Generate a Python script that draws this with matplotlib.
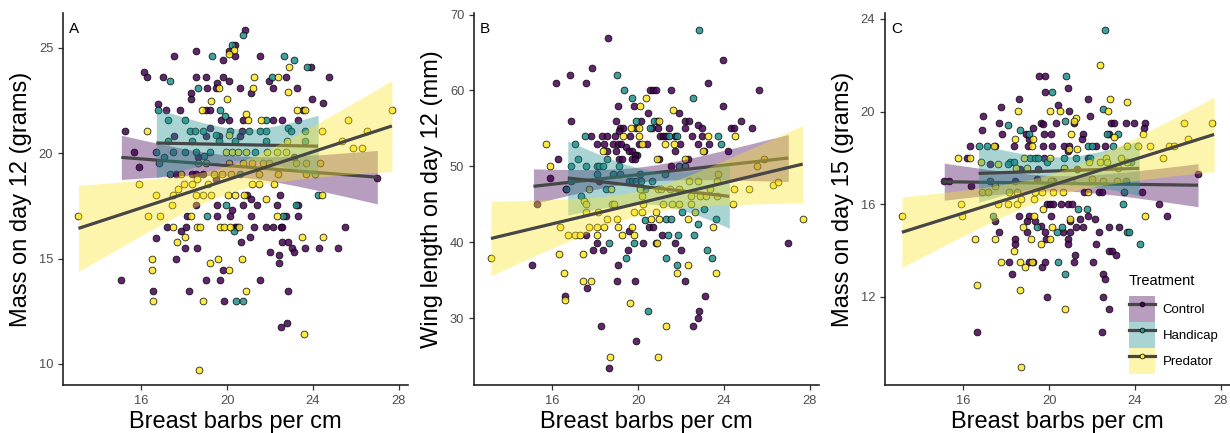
import numpy as np
import matplotlib
matplotlib.use("Agg")
import matplotlib.pyplot as plt
from matplotlib.patches import Patch
from matplotlib.lines import Line2D

plt.rcParams['font.family'] = ['Liberation Sans', 'DejaVu Sans']

treatments = ["Control", "Handicap", "Predator"]
colors = ["#440154", "#21908C", "#FDE725"]
line_col = "#464646"

# ---- Panel A: mass on day 12 (barbs per cm, grams) ----
a_control = [(20.83,25.86),(20.36,25.11),(20.10,24.87),(20.38,24.62),(17.54,24.59),(18.56,24.86),(19.80,24.40),(21.51,24.59),(23.93,24.10),(16.13,23.86),(16.25,23.59),(17.01,23.59),(18.56,23.59),(19.01,23.59),(19.79,23.59),(19.51,23.33),(20.11,23.40),(22.73,23.59),(21.93,23.40),(24.75,23.59),(19.06,23.08),(19.48,23.08),(20.59,23.08),(22.16,23.08),(23.24,23.08),(18.33,22.84),(18.31,22.57),(21.09,22.84),(23.94,22.57),(24.48,22.37),(16.79,22.32),(17.15,22.06),(17.79,22.06),(19.01,22.06),(19.20,22.06),(23.55,22.06),(19.71,21.56),(20.11,21.56),(20.72,21.56),(22.16,21.56),(22.58,21.56),(23.32,21.56),(15.24,21.06),(19.21,21.17),(20.69,21.06),(17.54,20.81),(19.01,20.81),(19.63,20.81),(20.59,20.81),(15.68,20.05),(18.64,19.83),(23.10,19.83),(15.88,19.35),(17.62,19.03),(18.34,19.03),(18.55,19.03),(18.86,19.03),(27.00,18.83),(19.48,18.78),(20.92,18.03),(21.09,17.81),(22.48,18.03),(18.55,17.52),(19.54,17.52),(20.76,17.52),(21.40,17.52),(22.31,17.52),(23.29,17.52),(20.21,17.30),(18.11,17.00),(19.55,17.00),(20.14,17.00),(21.09,17.00),(22.75,17.00),(23.29,17.00),(17.18,16.49),(17.85,16.30),(18.08,16.49),(20.36,16.49),(20.45,16.49),(21.24,16.49),(21.83,16.49),(22.14,16.49),(22.50,16.49),(22.58,16.49),(25.49,16.49),(16.70,15.98),(18.03,15.49),(18.61,15.49),(20.64,15.79),(21.07,16.00),(22.58,15.79),(22.83,15.79),(23.04,15.49),(23.65,15.49),(23.10,15.29),(24.30,15.49),(25.17,15.49),(21.99,15.29),(22.44,15.19),(17.60,14.98),(22.44,14.79),(19.82,14.48),(15.06,13.98),(19.00,13.98),(19.65,13.98),(21.52,13.98),(16.55,13.48),(18.21,13.48),(22.83,13.48),(19.86,12.97),(22.53,11.76),(22.81,11.95)]
a_handicap = [(20.75,25.62),(20.22,25.11),(19.29,24.59),(22.66,24.59),(23.12,24.40),(23.74,24.10),(17.35,23.40),(22.07,23.59),(18.64,23.08),(16.79,22.06),(19.69,22.06),(19.90,21.78),(17.24,21.56),(18.05,21.56),(21.80,21.56),(18.27,21.06),(18.50,21.06),(18.87,21.06),(20.13,21.06),(21.03,21.06),(21.54,21.06),(21.83,21.06),(22.83,21.17),(22.98,21.06),(23.62,21.06),(19.46,20.86),(17.23,20.56),(18.36,20.56),(19.60,20.56),(20.36,20.56),(21.80,20.56),(23.63,20.56),(16.67,20.05),(17.48,20.05),(18.03,20.05),(18.56,20.05),(18.93,19.87),(19.21,20.05),(21.29,20.05),(17.07,19.83),(16.84,19.51),(17.34,19.03),(20.62,19.03),(24.22,18.03),(19.94,17.52),(23.20,17.52),(19.06,17.00),(22.59,17.02),(20.31,16.30),(20.41,12.97),(20.73,12.97)]
a_predator = [(20.33,24.90),(20.07,24.70),(22.89,24.10),(21.23,23.59),(22.39,23.59),(19.63,23.08),(21.21,23.08),(22.83,22.89),(19.23,22.49),(19.99,22.57),(18.84,22.06),(20.90,21.87),(23.26,22.06),(23.62,22.06),(27.68,22.06),(20.98,21.56),(21.60,21.56),(25.62,21.56),(16.27,21.06),(24.42,21.06),(26.53,21.06),(20.10,20.86),(22.78,20.56),(25.34,20.56),(25.86,20.25),(26.30,20.25),(19.94,20.05),(20.25,20.05),(20.52,20.05),(20.87,20.05),(21.85,20.05),(22.33,20.05),(22.76,20.05),(18.64,19.51),(19.01,19.51),(20.10,19.51),(20.73,19.51),(21.18,19.51),(21.65,19.51),(21.96,19.51),(23.20,19.51),(23.69,19.51),(24.33,19.51),(17.85,19.03),(19.40,19.03),(19.74,19.03),(20.16,19.03),(21.48,19.03),(22.38,19.03),(23.69,19.03),(24.10,19.03),(15.88,18.54),(18.58,18.78),(18.36,18.54),(18.00,18.54),(19.09,18.54),(21.49,18.54),(21.18,18.54),(22.19,18.54),(13.07,17.00),(16.67,18.03),(17.46,18.03),(17.72,18.29),(18.55,18.03),(18.89,18.03),(19.24,18.03),(20.02,18.03),(20.38,18.03),(20.79,18.03),(24.42,18.03),(21.80,17.81),(17.41,17.52),(16.30,17.00),(18.31,17.00),(22.34,17.00),(16.86,17.02),(17.46,16.49),(18.58,16.49),(18.73,16.49),(19.69,16.49),(19.85,16.49),(20.13,16.49),(20.56,16.49),(17.68,15.79),(18.03,16.00),(23.48,16.00),(24.45,16.00),(16.52,14.98),(19.18,14.79),(19.59,14.98),(20.70,14.98),(16.52,14.48),(20.10,14.48),(20.90,13.48),(16.56,12.97),(18.86,12.97),(23.60,11.44),(18.67,9.73)]

# ---- Panel B: wing length on day 12 (mm) ----
b_control = [(18.61,66.97),(23.97,63.99),(17.84,62.98),(16.83,61.97),(16.17,61.01),(17.58,61.01),(23.26,61.01),(20.53,60.00),(20.67,60.00),(20.81,60.00),(21.54,60.00),(25.65,60.00),(19.05,57.98),(19.81,57.98),(23.97,57.98),(21.91,56.97),(20.44,56.97),(16.85,56.01),(18.96,56.01),(20.13,56.01),(20.87,56.01),(22.20,56.01),(22.36,56.01),(24.79,56.01),(22.78,55.48),(22.96,55.00),(19.17,55.00),(19.28,55.00),(19.88,55.00),(20.63,55.00),(20.94,55.00),(21.43,55.00),(22.20,55.00),(24.34,55.00),(24.46,55.00),(25.33,55.00),(19.09,54.65),(17.79,53.99),(18.32,53.99),(18.55,53.99),(18.94,53.99),(19.64,53.99),(21.03,53.99),(21.15,53.99),(21.31,53.99),(21.72,53.99),(22.53,53.99),(22.96,53.99),(18.07,52.98),(18.40,52.98),(18.82,52.98),(19.06,52.98),(19.22,52.98),(20.04,52.98),(20.42,52.98),(21.93,52.98),(22.78,52.98),(23.29,52.98),(18.57,51.97),(18.96,51.97),(19.45,52.50),(19.56,51.97),(19.73,51.97),(19.96,51.49),(19.87,51.49),(21.72,51.97),(23.06,51.97),(24.17,51.97),(16.28,50.96),(19.11,50.96),(19.25,50.96),(19.73,50.96),(19.85,50.96),(20.98,50.96),(22.33,50.96),(15.89,48.47),(21.55,50.00),(18.18,48.03),(16.62,47.02),(15.29,45.04),(15.07,36.98),(17.64,33.95),(16.57,32.94),(17.89,38.95),(18.09,39.96),(18.38,38.95),(19.02,34.96),(19.08,36.98),(18.64,23.43),(18.26,28.95),(19.53,38.95),(19.84,34.96),(19.91,26.94),(20.24,39.96),(20.83,39.96),(21.72,39.96),(22.02,38.95),(22.17,34.96),(22.56,28.95),(22.79,29.96),(22.85,30.97),(23.13,32.94),(27.00,39.96),(17.56,40.97),(19.56,41.45),(20.50,41.98),(20.67,41.98),(21.12,40.97)]
b_handicap = [(22.84,67.98),(19.03,61.97),(19.33,60.00),(19.73,58.99),(22.56,58.99),(19.90,56.01),(20.72,56.01),(20.53,55.00),(17.52,53.99),(21.46,53.99),(21.83,53.99),(23.74,53.99),(17.04,52.98),(23.84,52.98),(17.19,50.96),(18.57,50.96),(16.85,50.00),(17.56,50.00),(18.06,50.00),(18.18,50.00),(18.34,50.00),(19.11,50.00),(21.89,50.00),(22.20,50.00),(18.09,48.99),(18.83,48.99),(19.17,48.99),(20.10,48.99),(21.26,49.04),(19.57,48.03),(19.71,48.03),(19.91,48.03),(20.15,48.03),(20.64,48.03),(16.66,47.02),(16.85,48.03),(18.51,47.02),(20.30,47.02),(17.35,46.05),(23.09,44.39),(22.03,44.04),(23.64,43.07),(21.29,43.07),(21.54,43.07),(20.30,42.99),(18.63,39.96),(19.43,37.94),(19.81,39.96),(20.44,30.97),(21.29,37.94),(21.82,36.98),(23.21,38.95),(23.46,37.94),(21.38,40.97),(21.88,40.97),(22.62,40.97),(22.78,42.42)]
b_predator = [(20.36,58.99),(20.10,57.98),(21.62,57.46),(20.95,56.01),(19.65,55.00),(20.04,55.00),(19.29,53.99),(20.02,53.99),(23.27,53.99),(24.51,53.99),(15.71,52.98),(20.18,52.98),(21.23,52.98),(21.65,52.98),(18.35,51.97),(23.04,51.97),(20.89,50.96),(22.20,50.96),(15.89,50.00),(23.71,49.04),(25.87,50.96),(25.55,50.00),(22.39,48.03),(22.79,48.03),(23.66,48.03),(17.72,47.02),(18.75,47.02),(20.07,47.02),(20.94,47.02),(21.06,47.02),(21.91,47.02),(21.48,47.02),(23.35,47.02),(24.46,47.02),(25.18,47.02),(26.29,47.50),(26.54,47.98),(17.47,45.48),(17.55,45.04),(18.78,45.04),(18.89,45.04),(20.16,46.05),(20.22,45.04),(21.18,45.04),(21.57,45.04),(21.89,45.04),(22.45,46.05),(22.89,46.05),(23.15,46.05),(23.66,46.05),(22.47,45.04),(24.40,45.04),(17.56,44.04),(18.15,44.04),(19.79,44.04),(20.84,44.04),(20.18,44.04),(22.65,44.04),(18.57,43.07),(19.02,43.07),(20.58,43.07),(20.98,43.07),(22.34,43.07),(27.67,43.07),(13.14,37.94),(16.31,38.47),(16.54,35.97),(17.44,38.47),(17.44,34.96),(17.78,34.96),(16.59,32.46),(18.69,24.92),(19.62,31.94),(20.86,39.96),(20.94,24.92),(21.28,28.95),(21.82,35.97),(22.34,36.98),(23.63,35.97),(16.34,41.98),(16.74,40.97),(17.08,40.97),(17.27,40.97),(17.73,41.98),(18.07,40.97),(18.07,41.98),(18.41,41.98),(19.05,41.98),(19.23,40.97),(19.73,41.98),(19.81,40.97),(23.50,41.98)]

# ---- Panel C: mass on day 15 (grams) ----
c_control = [(19.52,21.52),(19.79,21.52),(20.86,21.02),(19.83,20.82),(18.60,20.52),(21.83,20.52),(17.76,20.21),(20.42,20.30),(20.94,20.01),(16.92,19.81),(21.91,19.81),(21.16,19.50),(17.65,19.50),(19.63,19.50),(19.72,19.44),(20.34,19.50),(22.89,19.50),(23.02,19.50),(23.57,19.50),(23.94,19.50),(24.45,19.50),(24.43,19.30),(19.25,19.30),(16.88,19.21),(17.79,19.01),(18.94,19.01),(19.06,18.80),(19.76,19.01),(20.11,19.01),(21.56,19.01),(21.51,18.80),(22.79,19.01),(16.31,18.51),(17.49,18.51),(18.34,18.51),(19.03,18.51),(19.72,18.51),(20.12,18.51),(20.71,18.51),(20.94,18.51),(20.88,18.30),(22.17,18.51),(22.60,18.51),(16.19,18.01),(19.77,18.01),(21.82,18.01),(17.25,17.73),(18.63,17.51),(19.49,17.51),(21.28,17.51),(15.11,17.01),(15.31,17.01),(16.34,16.80),(18.39,17.01),(19.45,17.08),(26.94,17.30),(21.62,16.51),(22.31,16.51),(22.48,16.51),(24.31,16.51),(19.91,16.01),(20.03,16.01),(20.20,16.01),(20.54,16.01),(20.89,16.01),(21.05,16.01),(25.14,16.01),(18.60,15.51),(19.05,15.51),(20.08,15.51),(21.42,15.36),(21.83,15.51),(22.16,15.36),(25.51,15.51),(17.48,15.29),(18.97,15.29),(19.34,15.29),(19.62,15.08),(18.96,14.79),(17.66,14.79),(19.83,14.79),(20.66,14.79),(20.97,14.79),(20.99,15.29),(21.25,15.01),(21.56,15.01),(22.33,14.79),(22.79,15.01),(23.26,15.01),(18.40,14.51),(18.40,14.29),(19.86,14.51),(20.86,14.51),(20.88,14.29),(22.17,14.29),(21.19,13.79),(22.80,13.99),(22.92,13.99),(23.11,13.79),(18.15,13.50),(19.08,13.50),(19.23,13.50),(19.69,13.29),(19.80,13.50),(21.17,13.50),(22.03,13.50),(18.26,13.00),(22.52,13.00),(22.59,12.79),(19.91,12.00),(22.51,12.00),(22.79,11.50),(16.62,10.50),(22.46,10.50)]
c_handicap = [(22.59,23.52),(20.79,21.52),(20.14,20.82),(22.52,20.11),(20.72,19.61),(18.08,19.41),(18.65,19.21),(19.08,19.01),(22.68,19.01),(23.22,19.01),(16.71,18.51),(17.11,18.51),(21.82,18.51),(22.00,18.51),(23.00,18.51),(19.12,18.01),(19.32,18.01),(19.49,18.01),(20.68,18.01),(21.23,18.01),(21.91,18.01),(18.19,17.80),(18.37,17.80),(18.06,17.73),(19.91,17.80),(23.83,17.80),(17.26,17.01),(20.19,17.01),(23.60,17.01),(23.49,16.51),(17.40,15.51),(21.34,15.81),(21.77,15.81),(23.42,16.01),(19.45,15.01),(20.36,14.79),(20.62,15.01),(23.62,14.79),(23.71,14.79),(24.25,14.29),(20.43,13.50),(20.74,13.00)]
c_predator = [(22.39,22.02),(22.83,20.52),(23.62,20.41),(18.54,20.01),(20.02,20.01),(20.52,20.01),(22.74,20.01),(21.25,19.71),(21.17,19.59),(26.29,19.50),(27.60,19.50),(18.40,18.80),(19.23,18.80),(21.00,19.01),(23.03,18.91),(24.37,19.01),(17.45,18.51),(19.20,18.51),(20.94,18.37),(21.29,18.40),(23.62,18.51),(24.16,18.51),(24.72,18.51),(25.60,18.51),(25.83,18.51),(26.49,18.83),(15.74,18.01),(16.31,18.01),(18.83,18.01),(20.06,18.01),(22.66,18.01),(23.37,18.01),(25.29,18.01),(16.83,17.80),(17.63,17.73),(18.46,17.58),(18.99,17.58),(20.68,17.58),(21.86,17.80),(22.37,17.80),(22.72,17.80),(23.23,17.58),(23.65,17.80),(17.49,16.80),(20.08,17.01),(21.03,17.01),(21.99,17.08),(22.52,17.01),(23.14,17.01),(16.86,16.51),(17.17,16.51),(18.11,16.51),(18.49,16.51),(19.32,16.51),(19.69,16.51),(20.17,16.51),(20.63,16.51),(21.79,16.51),(15.91,16.01),(17.60,16.01),(18.06,16.01),(18.52,16.01),(18.68,16.22),(19.29,16.22),(19.71,15.81),(13.14,15.51),(19.29,15.51),(20.99,15.36),(24.49,15.51),(15.94,15.51),(18.79,15.01),(20.12,15.01),(16.56,14.51),(17.49,14.51),(19.16,14.51),(20.03,14.51),(19.62,14.29),(18.37,13.99),(17.76,13.50),(18.62,13.50),(19.22,13.50),(18.88,13.29),(16.62,12.50),(18.63,12.32),(20.72,11.50),(18.69,8.98)]

# fitted lines:
# (x start, x end, y start, y end, half band at start, narrowest half band, half band at end)
a_fits = [(15.07, 27.00, 19.80, 18.86, 1.05, 0.50, 1.27),
          (16.70, 24.24, 20.48, 20.33, 1.65, 0.75, 1.47),
          (13.07, 27.68, 16.43, 21.29, 2.05, 0.65, 2.15)]
b_fits = [(15.12, 27.00, 47.37, 51.10, 2.30, 1.00, 3.10),
          (16.72, 24.25, 48.47, 46.05, 4.90, 2.20, 4.20),
          (13.14, 27.67, 40.50, 50.30, 4.90, 1.60, 5.10)]
c_fits = [(15.11, 26.94, 16.97, 16.82, 0.80, 0.33, 0.93),
          (16.71, 24.20, 17.33, 17.55, 1.25, 0.60, 1.18),
          (13.14, 27.69, 14.79, 19.01, 1.52, 0.50, 1.60)]

panels = [
    ("A", "Mass on day 12 (grams)", [a_control, a_handicap, a_predator], a_fits, (9.0, 26.65), [10, 15, 20, 25]),
    ("B", "Wing length on day 12 (mm)", [b_control, b_handicap, b_predator], b_fits, (21.2, 70.2), [30, 40, 50, 60, 70]),
    ("C", "Mass on day 15 (grams)", [c_control, c_handicap, c_predator], c_fits, (8.2, 24.25), [12, 16, 20, 24]),
]


def band(x0, x1, y0, y1, h0, hm, h1):
    xs = np.linspace(x0, x1, 100)
    ys = y0 + (y1 - y0) * (xs - x0) / (x1 - x0)
    r = np.sqrt((h0**2 - hm**2) / (h1**2 - hm**2))
    xm = (x0 + r * x1) / (1 + r)
    b = (h0**2 - hm**2) / (xm - x0)**2
    h = np.sqrt(hm**2 + b * (xs - xm)**2)
    return xs, ys, h


fig = plt.figure(figsize=(12.3, 4.33), dpi=100)
lefts = [63, 474, 885]
axes = []
for i, (letter, ylab, groups, fits, ylim, yticks) in enumerate(panels):
    ax = fig.add_axes([lefts[i] / 1230, 48 / 433, 345 / 1230, 372 / 433])
    axes.append(ax)
    for pts, col in zip(groups, colors):
        p = np.array(pts)
        ax.scatter(p[:, 0], p[:, 1], s=24, c=col, edgecolors="black",
                   linewidths=0.6, alpha=0.85, zorder=2)
    for k, (fit, col) in enumerate(zip(fits, colors)):
        xs, ys, h = band(*fit)
        ax.fill_between(xs, ys - h, ys + h, color=col, alpha=0.38,
                        linewidth=0, zorder=3 + 2 * k)
        ax.plot(xs, ys, color=line_col, lw=2.3, zorder=4 + 2 * k,
                solid_capstyle="butt")
    ax.set_xlim(12.35, 28.43)
    ax.set_ylim(*ylim)
    ax.set_xticks([16, 20, 24, 28])
    ax.set_yticks(yticks)
    for s in ["top", "right"]:
        ax.spines[s].set_visible(False)
    for s in ["left", "bottom"]:
        ax.spines[s].set_linewidth(1.2)
        ax.spines[s].set_color("#222222")
    ax.tick_params(length=3.5, width=0.9, color="#333333",
                   labelcolor="#4D4D4D", labelsize=9.3)
    ax.set_xlabel("Breast barbs per cm", fontsize=17, labelpad=3)
    ax.set_ylabel(ylab, fontsize=17, labelpad=5)
    ax.text(0.017, 0.975, letter, transform=ax.transAxes, ha="left", va="top",
            fontsize=11)

handles = []
for col in colors:
    handles.append((Patch(facecolor=col, alpha=0.38, edgecolor="none"),
                    Line2D([0], [0], color=line_col, lw=2.3, marker="o",
                           markersize=3.5, markerfacecolor=col,
                           markeredgecolor="black", markeredgewidth=0.5)))
leg = axes[2].legend(handles, treatments, title="Treatment", loc="lower left",
                     bbox_to_anchor=(0.707, 0.03), frameon=False, fontsize=9.5,
                     title_fontsize=10.5, handlelength=1.95, handleheight=2.65,
                     labelspacing=0.0, handletextpad=0.6, borderpad=0,
                     borderaxespad=0, alignment="left")
leg._legend_box.sep = 6

fig.savefig("out.png", dpi=100)
